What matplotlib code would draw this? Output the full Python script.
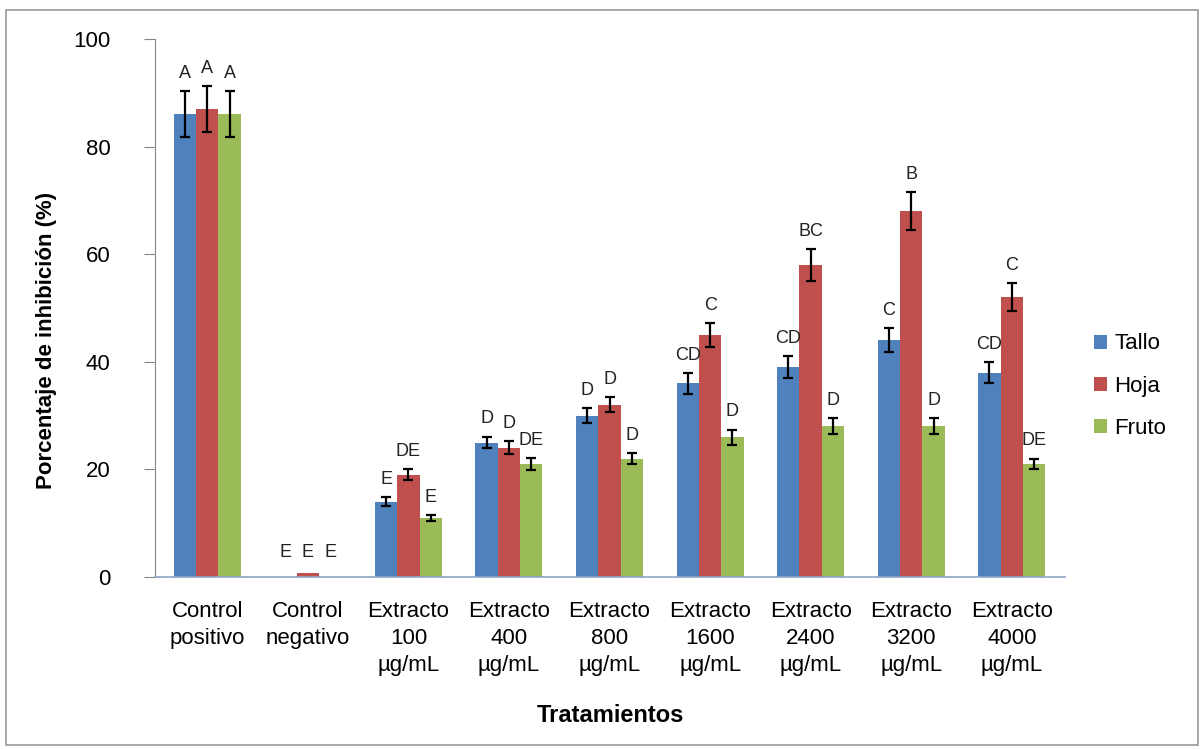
import numpy as np
import matplotlib
matplotlib.use("Agg")
import matplotlib.pyplot as plt
from matplotlib.patches import Rectangle

plt.rcParams['font.family'] = ['Liberation Sans', 'DejaVu Sans']

tratamientos = ["Control\npositivo", "Control\nnegativo",
                "Extracto\n100\nµg/mL", "Extracto\n400\nµg/mL",
                "Extracto\n800\nµg/mL", "Extracto\n1600\nµg/mL",
                "Extracto\n2400\nµg/mL", "Extracto\n3200\nµg/mL",
                "Extracto\n4000\nµg/mL"]

tallo = [86, 0, 14, 25, 30, 36, 39, 44, 38]
hoja = [87, 0.8, 19, 24, 32, 45, 58, 68, 52]
fruto = [86, 0, 11, 21, 22, 26, 28, 28, 21]

tallo_err = [4.3, 0, 0.8, 1.1, 1.4, 1.9, 2.0, 2.2, 1.9]
hoja_err = [4.3, 0, 1.0, 1.2, 1.4, 2.2, 2.9, 3.5, 2.6]
fruto_err = [4.3, 0, 0.5, 1.1, 1.0, 1.4, 1.5, 1.5, 1.0]

tallo_letras = ["A", "E", "E", "D", "D", "CD", "CD", "C", "CD"]
hoja_letras = ["A", "E", "DE", "D", "D", "C", "BC", "B", "C"]
fruto_letras = ["A", "E", "E", "DE", "D", "D", "D", "D", "DE"]

series = [
    ("Tallo", tallo, tallo_err, tallo_letras, "#4F81BD"),
    ("Hoja", hoja, hoja_err, hoja_letras, "#C0504D"),
    ("Fruto", fruto, fruto_err, fruto_letras, "#9BBB59"),
]

fig = plt.figure(figsize=(12.04, 7.49), dpi=100)
ax = fig.add_axes([0.1287, 0.2296, 0.7559, 0.7184])

x = np.arange(len(tratamientos))
w = 0.222

for i, (name, vals, errs, letras, color) in enumerate(series):
    pos = x + (i - 1) * w
    vals = np.array(vals, dtype=float)
    errs = np.array(errs, dtype=float)
    ax.bar(pos, vals, width=w, color=color, label=name, zorder=2)
    # skip error bars where there is no spread (negative control)
    m = errs > 0
    ax.errorbar(pos[m], vals[m], yerr=errs[m], fmt="none", ecolor="black",
                elinewidth=1.6, capsize=3.8, capthick=1.6, zorder=3)
    for xp, v, e, t in zip(pos, vals, errs, letras):
        base = max(v + e, 1.2)
        ax.text(xp, base + 3.3, t, ha="center", va="center",
                fontsize=13, color="#222222")

ax.set_xlim(-0.52, 8.53)
ax.set_ylim(0, 100)
ax.set_yticks(range(0, 101, 20))
ax.set_xticks(x)
ax.set_xticklabels(tratamientos, fontsize=16, linespacing=1.38)
ax.tick_params(axis="x", length=0, pad=17)
ax.tick_params(axis="y", length=8, color="#868686", labelsize=16, pad=24)

for side in ["top", "right"]:
    ax.spines[side].set_visible(False)
ax.spines["left"].set_color("#868686")
ax.spines["bottom"].set_color("#8EA4C8")
ax.spines["bottom"].set_linewidth(1.2)

ax.set_ylabel("Porcentaje de inhibición (%)", fontsize=16, fontweight="bold")
ax.yaxis.set_label_coords(-0.108, 0.44)
ax.set_xlabel("Tratamientos", fontsize=17, fontweight="bold", labelpad=20)

ax.legend(loc="center left", bbox_to_anchor=(1.01, 0.355), frameon=False,
          fontsize=16, handlelength=0.6, handleheight=0.6,
          handletextpad=0.3, labelspacing=0.95)

# thin frame around the whole chart area
fig.patches.append(Rectangle((0.005, 0.005), 0.99, 0.981,
                             transform=fig.transFigure, fill=False,
                             edgecolor="#9a9a9a", linewidth=1.2))

fig.savefig("out.png", dpi=100)
